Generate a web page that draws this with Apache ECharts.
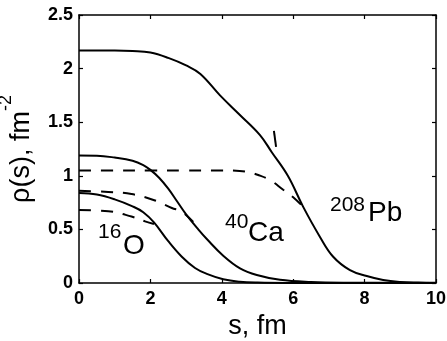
<!DOCTYPE html>
<html><head><meta charset="utf-8">
<script src="https://cdn.jsdelivr.net/npm/echarts@6/dist/echarts.min.js"></script>
<style>html,body{margin:0;padding:0;background:#fff}#c{width:447px;height:341px}</style>
</head><body><div id="c"></div>
<script>
// ---- data ----
const xTicks = [0, 2, 4, 6, 8, 10];
const yTicks = [0, 0.5, 1, 1.5, 2, 2.5];

const sPbSolid   = [0, 1, 1.5, 2, 2.5, 3, 3.4, 3.95, 4.5, 5.07, 5.4, 5.85, 6.28, 6.75, 7.12, 7.59, 8.06, 8.52, 9, 9.5, 10];
const rhoPbSolid = [2.17, 2.17, 2.165, 2.15, 2.10, 2.03, 1.95, 1.75, 1.57, 1.38, 1.22, 1.0, 0.71, 0.43, 0.245, 0.12, 0.065, 0.028, 0.01, 0.004, 0.002];

const sPbDash    = [0, 1, 2, 3, 4, 4.5, 4.8, 5.0, 5.35, 5.72, 6.0, 6.28];
const rhoPbDash  = [1.05, 1.05, 1.05, 1.05, 1.05, 1.045, 1.03, 1.01, 0.96, 0.87, 0.80, 0.71];

const sPbStray   = [5.46, 5.52];
const rhoPbStray = [1.42, 1.27];

const sCaSolid   = [0, 0.5, 1.0, 1.5, 1.8, 2.0, 2.25, 2.5, 2.75, 3.0, 3.34, 3.58, 4.04, 4.51, 4.98, 5.63, 6.5, 7.5, 10];
const rhoCaSolid = [1.19, 1.188, 1.17, 1.14, 1.10, 1.055, 0.98, 0.88, 0.76, 0.64, 0.50, 0.41, 0.255, 0.137, 0.075, 0.03, 0.01, 0.003, 0];

const sCaDash    = [0, 0.82, 1.47, 2.13, 2.6, 2.88, 3.2];
const rhoCaDash  = [0.86, 0.85, 0.83, 0.77, 0.70, 0.665, 0.57];

const sOSolid    = [0, 0.5, 1.0, 1.5, 1.8, 2.1, 2.5, 2.88, 3.25, 3.58, 4.04, 4.5, 5, 6, 10];
const rhoOSolid  = [0.84, 0.825, 0.78, 0.715, 0.66, 0.565, 0.39, 0.245, 0.14, 0.085, 0.035, 0.012, 0.004, 0.001, 0];

const sODash     = [0, 0.82, 1.47, 1.85, 2.1];
const rhoODash   = [0.68, 0.67, 0.62, 0.575, 0.55];

const nucleusMass = ['16', '40', '208'];
const nucleusSym  = ['O', 'Ca', 'Pb'];

// ---- chart ----
const FONT = '"Liberation Sans", Arial, Helvetica, sans-serif';
function pairs(xs, ys) { return xs.map((x, i) => [x, ys[i]]); }

const chart = echarts.init(document.getElementById('c'), null, { renderer: 'canvas' });

const axisLine = { show: true, onZero: false, lineStyle: { color: '#000', width: 1.5 } };
const axisTick = { show: true, inside: true, length: 4, lineStyle: { color: '#000', width: 1.2 } };
const tickLabel = { color: '#000', fontFamily: FONT, fontWeight: 'bold', fontSize: 18 };

function line(xs, ys, dashed) {
  return {
    type: 'line', xAxisIndex: 0, yAxisIndex: 0,
    data: pairs(xs, ys), symbol: 'none', showSymbol: false,
    smooth: 0.4, silent: true,
    lineStyle: { color: '#000', width: 2, type: dashed ? [12, 10] : 'solid' }
  };
}

const labelPos = [
  { sup: [98, 232], main: [123, 246] },
  { sup: [225, 222], main: [248, 233] },
  { sup: [330, 205], main: [368, 213] }
];
const graphics = [];
labelPos.forEach((p, i) => {
  graphics.push({ type: 'text', x: p.sup[0], y: p.sup[1], silent: true,
    style: { text: nucleusMass[i], font: '21px ' + FONT, fill: '#000', align: 'left', verticalAlign: 'middle' } });
  graphics.push({ type: 'text', x: p.main[0], y: p.main[1], silent: true,
    style: { text: nucleusSym[i], font: '28px ' + FONT, fill: '#000', align: 'left', verticalAlign: 'middle' } });
});

chart.setOption({
  animation: false,
  backgroundColor: '#fff',
  grid: { left: 79, right: 11, top: 15, bottom: 58, containLabel: false, outerBoundsMode: 'none' },
  xAxis: [
    { type: 'value', position: 'bottom', min: xTicks[0], max: xTicks[xTicks.length - 1], interval: 2,
      axisLine, axisTick, splitLine: { show: false },
      axisLabel: Object.assign({ margin: 7 }, tickLabel),
      name: 's, fm', nameLocation: 'middle', nameGap: 27,
      nameTextStyle: { color: '#000', fontFamily: FONT, fontSize: 27 } },
    { type: 'value', position: 'top', min: xTicks[0], max: xTicks[xTicks.length - 1], interval: 2,
      axisLine, axisTick, splitLine: { show: false }, axisLabel: { show: false } }
  ],
  yAxis: [
    { type: 'value', position: 'left', min: yTicks[0], max: yTicks[yTicks.length - 1], interval: 0.5,
      axisLine, axisTick, splitLine: { show: false },
      axisLabel: Object.assign({ margin: 6 }, tickLabel),
      name: '{a|ρ(s), fm}{b|-2}', nameLocation: 'middle', nameGap: 44, nameRotate: 90,
      nameTextStyle: { color: '#000', fontFamily: FONT, fontSize: 27,
        rich: { a: { fontFamily: FONT, fontSize: 27, color: '#000', lineHeight: 38, verticalAlign: 'bottom' },
                b: { fontFamily: FONT, fontSize: 18, color: '#000', verticalAlign: 'top' } } } },
    { type: 'value', position: 'right', min: yTicks[0], max: yTicks[yTicks.length - 1], interval: 0.5,
      axisLine, axisTick, splitLine: { show: false }, axisLabel: { show: false } }
  ],
  series: [
    line(sPbSolid, rhoPbSolid, false),
    line(sPbDash, rhoPbDash, true),
    line(sPbStray, rhoPbStray, false),
    line(sCaSolid, rhoCaSolid, false),
    line(sCaDash, rhoCaDash, true),
    line(sOSolid, rhoOSolid, false),
    line(sODash, rhoODash, true)
  ],
  graphic: graphics
});
</script>
</body></html>
